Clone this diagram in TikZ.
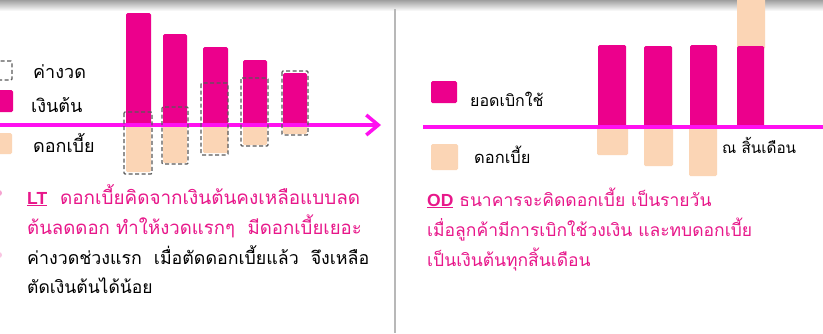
\documentclass[tikz,border=0pt]{standalone}
\usepackage{fontspec}
\newfontfamily\thaifont[Script=Thai]{Loma}
\setmainfont{Liberation Sans}
\usetikzlibrary{arrows.meta}
\definecolor{barpink}{HTML}{EC008C}
\definecolor{peach}{HTML}{FBD5B5}
\definecolor{axismag}{HTML}{FF10F0}
\definecolor{txtpink}{HTML}{E8178A}
\definecolor{dashgray}{HTML}{5A5A5A}
\definecolor{divgray}{HTML}{B8B8B8}
\tikzset{
  pbar/.style={fill=barpink, draw=none, rounded corners=1.5pt},
  ibar/.style={fill=peach, draw=none, rounded corners=1.5pt},
  inst/.style={draw=dashgray, dashed, dash pattern=on 4pt off 2.5pt, line width=1.3pt, rounded corners=1pt},
  legtxt/.style={anchor=base west, inner sep=0pt, font=\thaifont\fontsize{18}{22}\selectfont, text=black},
  partxt/.style={anchor=base west, inner sep=0pt, font=\thaifont\fontsize{17.5}{21}\selectfont},
  axis/.style={draw=axismag, line width=3.5pt},
}
\begin{document}
\begin{tikzpicture}[x=1pt,y=-1pt]
\useasboundingbox (0,0) rectangle (823,333);
\fill[white] (0,0) rectangle (823,333);
% top shadow
\shade[top color=gray!75, bottom color=white] (0,0) rectangle (823,11);
% divider
\draw[divgray, line width=2pt] (395,9) -- (395,333);
% bullets cut at left edge
\fill[txtpink!40] (-1,193) circle (3);
\fill[txtpink!25] (-1,255) circle (3);

% ---------- LEFT PANEL ----------
% legend
\draw[inst] (-4,61) rectangle (12,80);
\fill[pbar] (-6,90) rectangle (13,112);
\fill[ibar] (-6,133) rectangle (12,154);
\node[legtxt] (lg1) at (33,78) {ค่างวด};
\node[legtxt] (lg2) at (31,112) {เงินต้น};
\node[legtxt] (lg3) at (33,152) {ดอกเบี้ย};

% bars (principal above, interest below)
\fill[ibar] (126,125) rectangle (151,172);
\fill[pbar] (126,13) rectangle (151,126);
\fill[ibar] (163,125) rectangle (187,163);
\fill[pbar] (163,34) rectangle (187,126);
\fill[ibar] (203,125) rectangle (228,153);
\fill[pbar] (203,47) rectangle (228,126);
\fill[ibar] (243,125) rectangle (267,145);
\fill[pbar] (243,60) rectangle (267,126);
\fill[ibar] (283,125) rectangle (307,134);
\fill[pbar] (283,73) rectangle (307,126);

% axis arrow
\coordinate (ax0) at (0,125);
\coordinate (ax1) at (381,125);
\draw[axis, -{Straight Barb[length=12pt, width=20pt, line width=3.5pt]}] (ax0) -- (ax1);

% dashed instalment boxes
\draw[inst] (124,112) rectangle (152,174);
\draw[inst] (162,107) rectangle (188,164);
\draw[inst] (201,83) rectangle (228,155);
\draw[inst] (241,78) rectangle (268,146);
\draw[inst] (282,71) rectangle (308,135);

% paragraph
\node[partxt, text=txtpink, font=\thaifont\fontsize{18.9}{22}\selectfont] (lt1) at (27,204) {\underline{\textbf{\rmfamily\fontsize{17.5}{21}\selectfont LT}}\ \ ดอกเบี้ยคิดจากเงินต้นคงเหลือแบบลด};
\node[partxt, text=txtpink, font=\thaifont\fontsize{18.6}{22}\selectfont] (lt2) at (27,234) {ต้นลดดอก ทำให้งวดแรกๆ\ \ มีดอกเบี้ยเยอะ};
\node[partxt, text=black, font=\thaifont\fontsize{17.8}{21}\selectfont] (lt3) at (27,264) {ค่างวดช่วงแรก\ \ เมื่อตัดดอกเบี้ยแล้ว\ \ จึงเหลือ};
\node[partxt, text=black] (lt4) at (27,293) {ตัดเงินต้นได้น้อย};

% ---------- RIGHT PANEL ----------
\fill[pbar] (431,81) rectangle (457,103);
\fill[ibar] (431,144) rectangle (458,170);
\node[legtxt, font=\thaifont\fontsize{16}{20}\selectfont] (rg1) at (470,106) {ยอดเบิกใช้};
\node[legtxt, font=\thaifont\fontsize{16.5}{20}\selectfont] (rg2) at (474,163) {ดอกเบี้ย};

\fill[ibar] (597,126) rectangle (628,155);
\fill[pbar] (598,45) rectangle (626,128);
\fill[ibar] (644,126) rectangle (673,166);
\fill[pbar] (644,46) rectangle (672,128);
\fill[ibar] (689,126) rectangle (717,176);
\fill[pbar] (690,45) rectangle (717,128);
\fill[ibar] (737,-5) rectangle (765,49);
\fill[pbar] (737,46) rectangle (764,128);

\coordinate (bx0) at (423,127);
\coordinate (bx1) at (823,127);
\draw[axis] (bx0) -- (bx1);

\node[legtxt, font=\thaifont\fontsize{15.3}{19}\selectfont] (eom) at (722,153) {ณ สิ้นเดือน};

\node[partxt, text=txtpink] (od1) at (427,206) {\underline{\textbf{\rmfamily OD}}\ ธนาคารจะคิดดอกเบี้ย เป็นรายวัน};
\node[partxt, text=txtpink] (od2) at (427,236) {เมื่อลูกค้ามีการเบิกใช้วงเงิน และทบดอกเบี้ย};
\node[partxt, text=txtpink] (od3) at (427,266) {เป็นเงินต้นทุกสิ้นเดือน};
\end{tikzpicture}
\end{document}
